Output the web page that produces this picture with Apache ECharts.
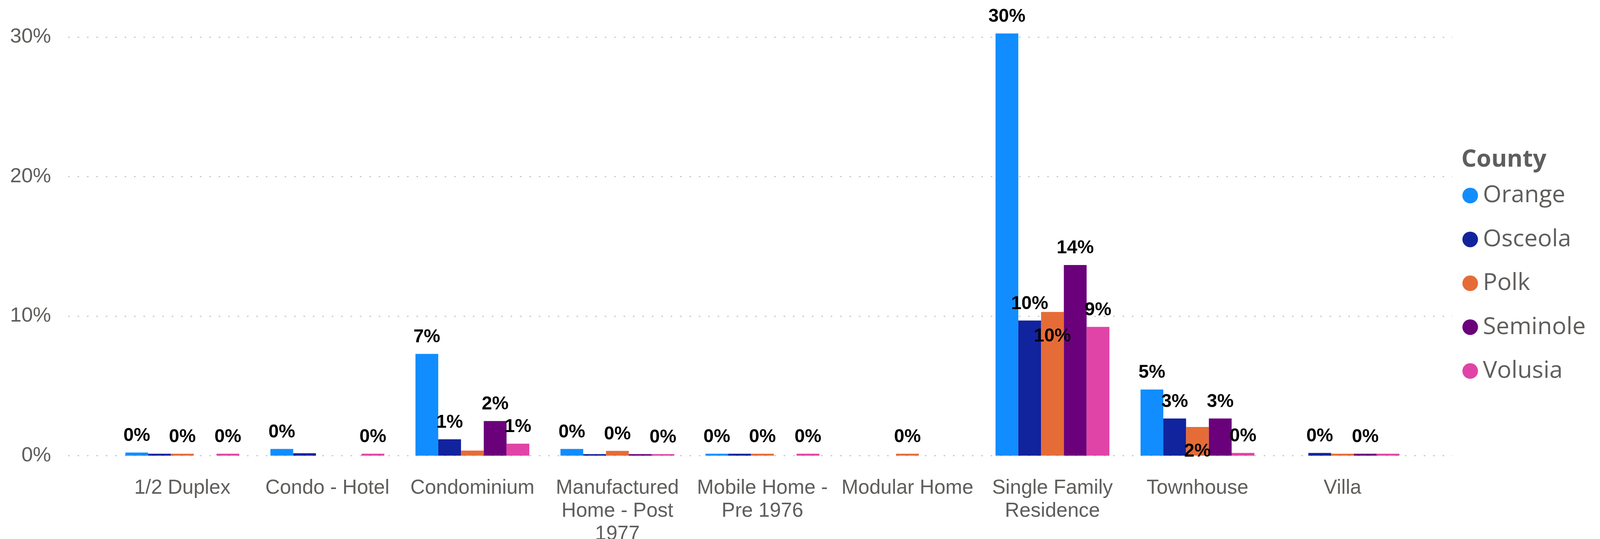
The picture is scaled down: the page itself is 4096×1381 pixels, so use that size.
<!DOCTYPE html>
<html>
<head>
<meta charset="utf-8">
<script src="https://cdn.jsdelivr.net/npm/echarts@6/dist/echarts.min.js"></script>
<style>html,body{margin:0;padding:0;background:#fff;}#c{width:4096px;height:1381px;}</style>
</head>
<body>
<div id="c"></div>
<script>
// ---- data ----
const categories = ['1/2 Duplex', 'Condo - Hotel', 'Condominium', 'Manufactured Home - Post 1977', 'Mobile Home - Pre 1976', 'Modular Home', 'Single Family Residence', 'Townhouse', 'Villa'];
const tickLabels = ['1/2 Duplex', 'Condo - Hotel', 'Condominium', 'Manufactured\nHome - Post\n1977', 'Mobile Home -\nPre 1976', 'Modular Home', 'Single Family\nResidence', 'Townhouse', 'Villa'];
const yTicks = [0, 10, 20, 30];
const seriesNames = ['Orange', 'Osceola', 'Polk', 'Seminole', 'Volusia'];
const orange   = [0.22, 0.48, 7.29, 0.48, 0.14, null, 30.25, 4.74, null];
const osceola  = [0.14, 0.17, 1.17, 0.11, 0.14, null, 9.68, 2.66, 0.19];
const polk     = [0.14, null, 0.36, 0.34, 0.14, 0.14, 10.30, 2.05, 0.14];
const seminole = [null, null, 2.48, 0.11, null, null, 13.66, 2.66, 0.14];
const volusia  = [0.14, 0.14, 0.86, 0.11, 0.14, null, 9.23, 0.19, 0.14];
// data label flags: 't' = above bar, 'i' = inside top, '' = hidden
const orangeLabels   = ['t', 't', 't', 't', 't', '', 't', 't', ''];
const osceolaLabels  = ['', '', 't', '', '', '', 't', 't', 't'];
const polkLabels     = ['t', '', '', 't', 't', 't', 'i', 'i', ''];
const seminoleLabels = ['', '', 't', '', '', '', 't', 't', 't'];
const volusiaLabels  = ['t', 't', 't', 't', 't', '', 't', 't', ''];

// ---- styling ----
const colors = ['#118DFF', '#12239E', '#E66C37', '#6B007B', '#E044A7'];
const textGray = '#605E5C';
const values = [orange, osceola, polk, seminole, volusia];
const flags = [orangeLabels, osceolaLabels, polkLabels, seminoleLabels, volusiaLabels];

const gridTop = 94.8, gridBottom = 213.6;

function buildData(vals, fl) {
  return vals.map((v, i) => {
    if (v === null) return '-';
    const f = fl[i];
    if (!f) return { value: v, label: { show: false } };
    return {
      value: v,
      label: {
        show: true,
        position: f === 'i' ? 'insideTop' : 'top',
        distance: f === 'i' ? 39 : 19
      }
    };
  });
}

const series = seriesNames.map((name, k) => ({
  name: name,
  type: 'bar',
  xAxisIndex: 1,
  yAxisIndex: 1,
  barWidth: 58.3,
  barGap: '0%',
  clip: false,
  itemStyle: { color: colors[k] },
  label: {
    show: true,
    color: '#000000',
    fontFamily: 'Liberation Sans, Arial, sans-serif',
    fontWeight: 'bold',
    fontSize: 47.5,
    lineHeight: 47.5,
    formatter: p => Math.round(p.value) + '%'
  },
  data: buildData(values[k], flags[k])
}));

const chart = echarts.init(document.getElementById('c'), null, { renderer: 'canvas' });
chart.setOption({
  animation: false,
  backgroundColor: '#ffffff',
  color: colors,
  title: {
    text: 'County',
    left: 3741,
    top: 375,
    padding: 0,
    textStyle: { fontFamily: 'Open Sans, sans-serif', fontWeight: 'bold', fontSize: 61, lineHeight: 70, color: textGray }
  },
  legend: {
    orient: 'vertical',
    left: 3743.7,
    top: 470.5,
    padding: 0,
    icon: 'circle',
    itemWidth: 41,
    itemHeight: 40,
    itemGap: 51.4,
    selectedMode: false,
    data: seriesNames,
    textStyle: { fontFamily: 'Open Sans, sans-serif', fontSize: 61, lineHeight: 40, color: textGray, padding: [0, 0, 0, 7] }
  },
  grid: [
    { left: 174.4, right: 377.8, top: gridTop, bottom: gridBottom, containLabel: false, outerBoundsMode: 'none' },
    { left: 281.2, right: 473.6, top: gridTop, bottom: gridBottom, containLabel: false, outerBoundsMode: 'none' }
  ],
  xAxis: [
    { type: 'category', gridIndex: 0, data: categories, show: false },
    {
      type: 'category', gridIndex: 1, data: categories,
      axisLine: { show: false }, axisTick: { show: false }, splitLine: { show: false },
      axisLabel: {
        interval: 0,
        margin: 54,
        color: textGray,
        fontFamily: 'Liberation Sans, Arial, sans-serif',
        fontSize: 51.5,
        lineHeight: 59,
        align: 'center',
        formatter: (v, i) => tickLabels[i]
      }
    }
  ],
  yAxis: [
    {
      type: 'value', gridIndex: 0,
      min: yTicks[0], max: yTicks[yTicks.length - 1], interval: yTicks[1] - yTicks[0],
      axisLine: { show: false }, axisTick: { show: false },
      axisLabel: {
        margin: 43.6,
        color: textGray,
        fontFamily: 'Liberation Sans, Arial, sans-serif',
        fontSize: 52.5,
        padding: [8, 0, 0, 0],
        formatter: '{value}%'
      },
      splitLine: { show: true, lineStyle: { color: '#C8C8C8', width: 3, type: [4, 20.1] } }
    },
    {
      type: 'value', gridIndex: 1,
      min: yTicks[0], max: yTicks[yTicks.length - 1], interval: yTicks[1] - yTicks[0],
      show: false, splitLine: { show: false }
    }
  ],
  series: series
});
</script>
</body>
</html>
